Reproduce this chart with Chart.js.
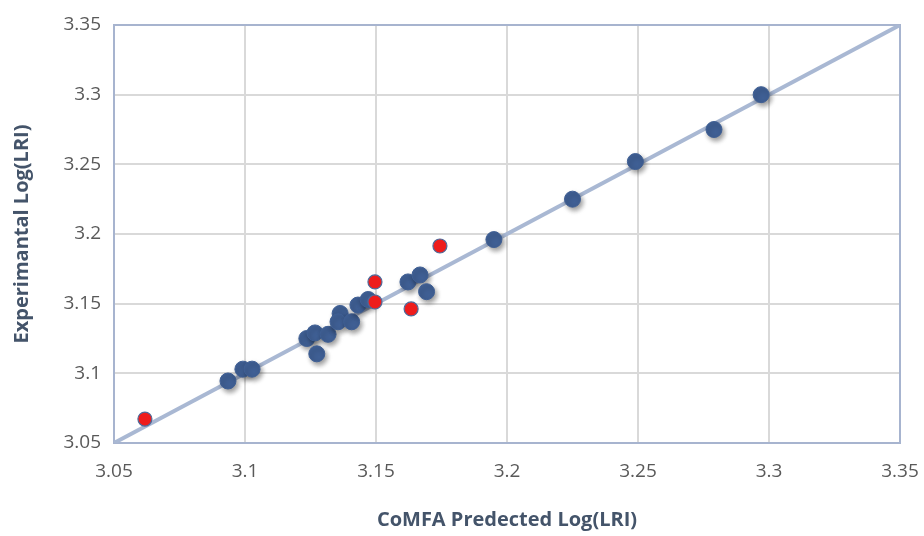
<!DOCTYPE html>
<html><head><meta charset="utf-8">
<script src="https://cdn.jsdelivr.net/npm/chart.js@4.4.1/dist/chart.umd.min.js"></script>
<style>html,body{margin:0;padding:0;background:#fff}#wrap{width:924px;height:536px}</style>
</head><body><div id="wrap"><canvas id="c" width="924" height="536"></canvas></div>
<script>
const trainPredicted = [3.0935,3.0992,3.1027,3.1236,3.1267,3.1317,3.1274,3.1363,3.1355,3.1407,3.1431,3.1470,3.1622,3.1668,3.1693,3.1950,3.2250,3.2490,3.2790,3.2970];
const trainExperimental = [3.0945,3.1030,3.1030,3.1250,3.1290,3.1280,3.1140,3.1430,3.1370,3.1370,3.1490,3.1530,3.1656,3.1706,3.1586,3.1960,3.2250,3.2520,3.2750,3.3000];
const testPredicted = [3.0618,3.1496,3.1496,3.1634,3.1744];
const testExperimental = [3.0672,3.1656,3.1512,3.1462,3.1914];
const idealLine = [3.05,3.35];
const tickValues = [3.05,3.1,3.15,3.2,3.25,3.3,3.35];

const toPts = (xs, ys) => xs.map((x,i)=>({x:x,y:ys[i]}));

const shadowPlugin = {
  id:'shadow',
  beforeDatasetDraw(chart,args){
    if(args.index===0){
      const ctx=chart.ctx; ctx.save();
      ctx.shadowColor='rgba(0,0,0,0.4)'; ctx.shadowBlur=5; ctx.shadowOffsetX=2; ctx.shadowOffsetY=3;
    }
  },
  afterDatasetDraw(chart,args){ if(args.index===0) chart.ctx.restore(); }
};
const borderPlugin = {
  id:'frame',
  beforeDatasetsDraw(chart){
    const {ctx,chartArea:a}=chart; ctx.save();
    ctx.strokeStyle='#a7b4cf'; ctx.lineWidth=2;
    ctx.strokeRect(a.left,a.top,a.right-a.left,a.bottom-a.top); ctx.restore();
  }
};

const tickFont = {family:"'Open Sans', 'Liberation Sans', sans-serif", size:19};
const titleFont = {family:"'Open Sans', sans-serif",size:20,weight:'bold'};
new Chart(document.getElementById('c'),{
  data:{datasets:[
    {type:'scatter',data:toPts(trainPredicted,trainExperimental),backgroundColor:'#3f5f94',borderColor:'#3f5f94',pointRadius:8,pointHoverRadius:8,order:1},
    {type:'scatter',data:toPts(testPredicted,testExperimental),backgroundColor:'#ee1c1c',borderColor:'#4e6a9a',borderWidth:1.2,pointRadius:7,pointHoverRadius:7,order:0},
    {type:'line',data:toPts(idealLine,idealLine),borderColor:'#a9b8d3',borderWidth:4,pointRadius:0,fill:false,order:2}
  ]},
  options:{
    responsive:false,animation:false,
    layout:{padding:{left:0,right:24,top:25,bottom:0}},
    plugins:{legend:{display:false},tooltip:{enabled:false}},
    scales:{
      x:{type:'linear',min:3.05,max:3.35,
        afterBuildTicks(s){s.ticks=tickValues.map(v=>({value:v}));},
        afterFit(s){s.height=93;s.paddingRight=0;s.paddingLeft=0;},
        ticks:{color:'#595959',font:tickFont,padding:17,maxRotation:0,callback:v=>String(+v.toFixed(2))},
        grid:{color:'#d9d9d9',lineWidth:2,drawTicks:false},border:{display:false},
        title:{display:true,text:'CoMFA Predected Log(LRI)',color:'#44546a',font:titleFont,padding:{top:22}}
      },
      y:{type:'linear',min:3.05,max:3.35,
        afterBuildTicks(s){s.ticks=tickValues.map(v=>({value:v}));},
        afterFit(s){s.width=114;s.paddingTop=0;s.paddingBottom=0;},
        ticks:{color:'#595959',font:tickFont,padding:13,callback:v=>String(+v.toFixed(2))},
        grid:{color:'#d9d9d9',lineWidth:2,drawTicks:false},border:{display:false},
        title:{display:true,text:'Experimantal Log(LRI)',color:'#44546a',font:titleFont,padding:{top:10,bottom:4}}
      }
    }
  },
  plugins:[shadowPlugin,borderPlugin]
});
</script></body></html>
